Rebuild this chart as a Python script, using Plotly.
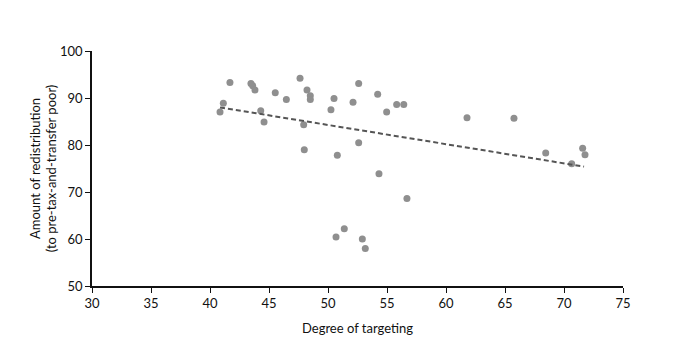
import plotly.graph_objects as go

# Degree of targeting (x) and amount of redistribution (y)
targeting = [40.85, 41.13, 41.69, 43.47, 43.62, 43.81, 44.30, 44.58, 45.53, 46.47,
             47.63, 48.22, 48.50, 48.50, 47.94, 47.99, 50.25, 50.51, 50.79, 50.68,
             51.38, 52.12, 52.60, 52.60, 52.91, 53.16, 54.21, 54.32, 54.97, 55.82,
             56.42, 56.69, 61.78, 65.76, 68.45, 70.65, 71.58, 71.78]
redistribution = [87.0, 88.9, 93.3, 93.1, 92.6, 91.7, 87.3, 84.9, 91.1, 89.7,
                  94.2, 91.7, 90.5, 89.7, 84.3, 79.0, 87.5, 89.9, 77.8, 60.4,
                  62.2, 89.1, 93.1, 80.5, 60.0, 58.0, 90.8, 73.9, 87.0, 88.6,
                  88.6, 68.6, 85.8, 85.7, 78.3, 76.0, 79.3, 77.9]

# Trend line endpoints
trend_x = [40.85, 71.7]
trend_y = [88.0, 75.4]

x_ticks = [30, 35, 40, 45, 50, 55, 60, 65, 70, 75]
y_ticks = [50, 60, 70, 80, 90, 100]

font_family = "Lato, 'Open Sans', sans-serif"

fig = go.Figure()
fig.add_trace(go.Scatter(
    x=targeting, y=redistribution, mode="markers",
    marker=dict(size=7, color="#8f8f8f", line=dict(width=0)),
    showlegend=False, hoverinfo="x+y"))
fig.add_trace(go.Scatter(
    x=trend_x, y=trend_y, mode="lines",
    line=dict(color="#555555", width=2, dash="5px,3px"),
    showlegend=False, hoverinfo="skip"))

fig.update_layout(
    width=681, height=358,
    margin=dict(l=84, r=66, t=43, b=80),
    paper_bgcolor="white", plot_bgcolor="white",
    font=dict(family=font_family, size=13, color="#111111"),
    xaxis=dict(
        range=[30, 75], tickvals=x_ticks, ticktext=[str(v) for v in x_ticks],
        showgrid=False, zeroline=False, showline=True, linecolor="#111111", linewidth=1.5,
        ticks="outside", ticklen=5, tickcolor="#111111", tickwidth=1,
        tickfont=dict(size=13),
        title=dict(text="Degree of targeting", font=dict(size=13), standoff=14)),
    yaxis=dict(
        range=[50, 100], tickvals=y_ticks, ticktext=[str(v) for v in y_ticks],
        showgrid=False, zeroline=False, showline=True, linecolor="#111111", linewidth=1.5,
        ticks="outside", ticklen=5, tickcolor="#111111", tickwidth=1,
        tickfont=dict(size=13),
        title=dict(text="Amount of redistribution<br>(to pre-tax-and-transfer poor)",
                   font=dict(size=13), standoff=0)),
)

fig.write_html("out.html")
